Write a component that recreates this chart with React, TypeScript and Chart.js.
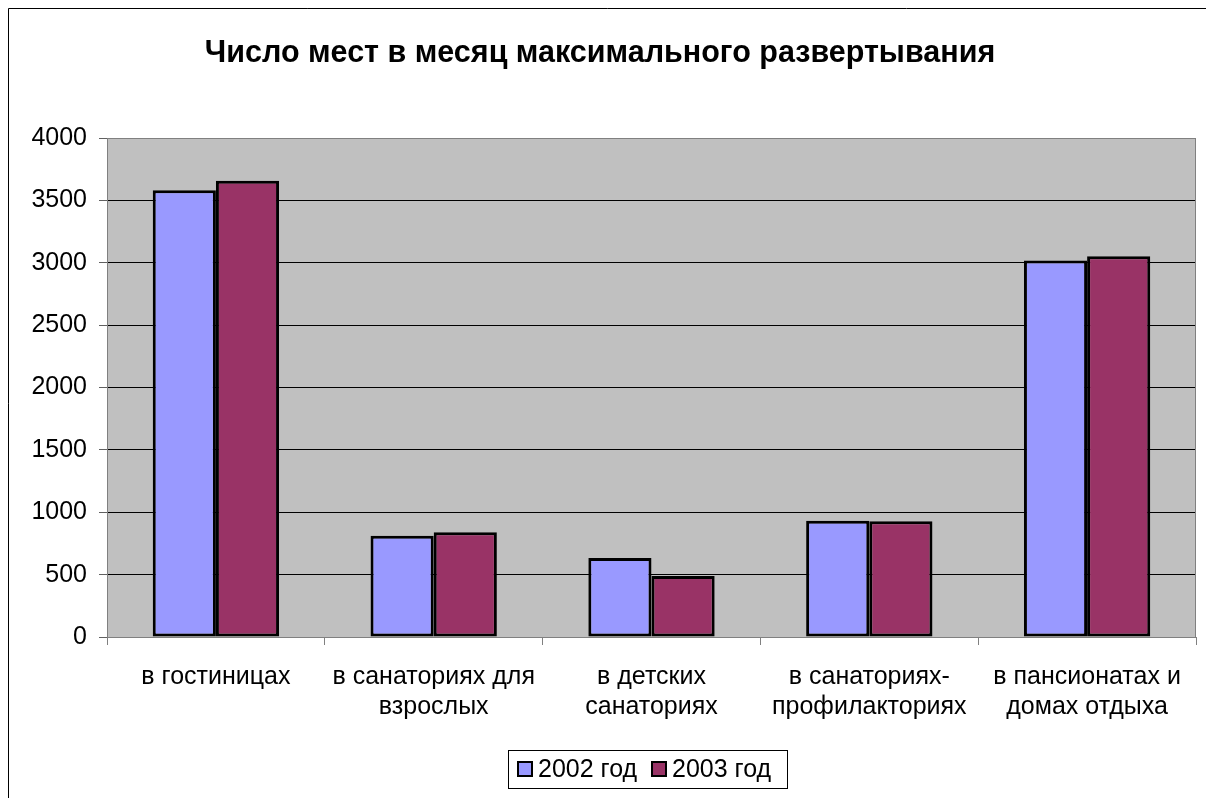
import React, { useEffect, useRef } from "react";
import { Chart, registerables } from "chart.js";

Chart.register(...registerables);

const categories: string[][] = [
  ["в гостиницах"],
  ["в санаториях для", "взрослых"],
  ["в детских", "санаториях"],
  ["в санаториях-", "профилакториях"],
  ["в пансионатах и", "домах отдыха"],
];
const series2002: number[] = [3582, 812, 633, 932, 3018];
const series2003: number[] = [3658, 840, 488, 928, 3052];
const seriesNames: string[] = ["2002 год", "2003 год"];
const seriesColors: string[] = ["#9999FF", "#993366"];
const titleText = "Число мест в месяц максимального развертывания";
const yTicks = { min: 0, max: 4000, step: 500 };

const FONT = "'Liberation Sans', Arial, sans-serif";

export default function App() {
  const ref = useRef<HTMLCanvasElement | null>(null);
  useEffect(() => {
    if (!ref.current) return;
    const decor = {
      id: "decor",
      beforeDraw(chart: any) {
        const { ctx, chartArea: a, width, height } = chart;
        ctx.save();
        ctx.fillStyle = "#fff";
        ctx.fillRect(0, 0, width, height);
        ctx.fillStyle = "#C0C0C0";
        ctx.fillRect(a.left, a.top, a.right - a.left, a.bottom - a.top);
        ctx.restore();
      },
      afterDraw(chart: any) {
        const { ctx, chartArea: a } = chart;
        ctx.save();
        ctx.strokeStyle = "#000";
        ctx.lineWidth = 1;
        ctx.beginPath();
        ctx.moveTo(0.5, chart.height);
        ctx.lineTo(0.5, 0.5);
        ctx.lineTo(chart.width, 0.5);
        ctx.stroke();
        ctx.strokeStyle = "#808080";
        ctx.strokeRect(a.left + 0.5, a.top + 0.5, a.right - a.left - 1, a.bottom - a.top);
        ctx.fillStyle = "#000";
        ctx.font = `bold 30.5px ${FONT}`;
        ctx.textAlign = "center";
        ctx.textBaseline = "middle";
        ctx.fillText(titleText, 592, 46);
        const lx = 500, ly = 742, lw = 279, lh = 38;
        ctx.strokeStyle = "#000";
        ctx.lineWidth = 1;
        ctx.strokeRect(lx + 0.5, ly + 0.5, lw, lh);
        ctx.font = `25px ${FONT}`;
        ctx.textAlign = "left";
        ctx.textBaseline = "middle";
        const items = [
          { x: 510, tx: 530 },
          { x: 644, tx: 664 },
        ];
        items.forEach((it, i) => {
          ctx.fillStyle = seriesColors[i];
          ctx.fillRect(it.x, 754, 14, 14);
          ctx.lineWidth = 2;
          ctx.strokeStyle = "#000";
          ctx.strokeRect(it.x, 754, 14, 14);
          ctx.fillStyle = "#000";
          ctx.fillText(seriesNames[i], it.tx, 762);
        });
        ctx.restore();
      },
    };
    const chart = new Chart(ref.current, {
      type: "bar",
      data: {
        labels: categories,
        datasets: [
          {
            label: seriesNames[0],
            data: series2002,
            backgroundColor: seriesColors[0],
            borderColor: "#000",
            borderWidth: 3,
            borderSkipped: false,
          },
          {
            label: seriesNames[1],
            data: series2003,
            backgroundColor: seriesColors[1],
            borderColor: "#000",
            borderWidth: 3,
            borderSkipped: false,
          },
        ],
      },
      options: {
        animation: false,
        responsive: false,
        maintainAspectRatio: false,
        datasets: { bar: { categoryPercentage: 0.58, barPercentage: 1 } },
        layout: { padding: { top: 130, left: 0, right: 10, bottom: 0 } },
        plugins: {
          legend: { display: false },
          title: { display: false },
          tooltip: { enabled: false },
        },
        scales: {
          x: {
            afterFit: (s: any) => {
              s.height = 161;
            },
            grid: {
              drawOnChartArea: false,
              drawTicks: true,
              tickLength: 8,
              offset: true,
              color: "#808080",
            },
            border: { display: true, color: "#808080" },
            ticks: {
              color: "#000",
              font: { family: FONT, size: 25, lineHeight: 1.2 },
              padding: 17,
              maxRotation: 0,
              autoSkip: false,
            },
          },
          y: {
            min: yTicks.min,
            max: yTicks.max,
            afterFit: (s: any) => {
              s.width = 99;
            },
            grid: {
              color: "#000",
              tickColor: "#606060",
              tickLength: 8,
              drawTicks: true,
            },
            border: { display: true, color: "#808080" },
            ticks: {
              stepSize: yTicks.step,
              color: "#000",
              font: { family: FONT, size: 25 },
              padding: 12,
              callback: (v: any) => String(v),
            },
          },
        },
      },
      plugins: [decor],
    });
    return () => chart.destroy();
  }, []);
  return (
    <div style={{ position: "fixed", left: 8, top: 8, width: 1198, height: 790 }}>
      <canvas ref={ref} width={1198} height={790} style={{ display: "block" }} />
    </div>
  );
}
